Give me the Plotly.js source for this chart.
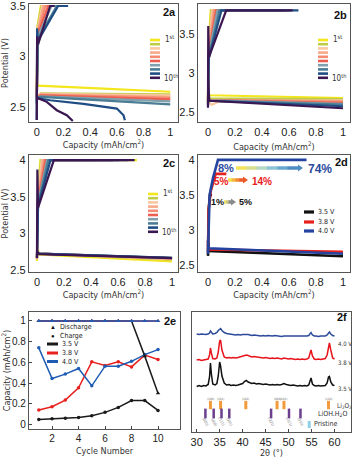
<!DOCTYPE html>
<html>
<head>
<meta charset="utf-8">
<script src="https://cdn.plot.ly/plotly-3.0.1.min.js"></script>
<style>
  html, body { margin: 0; padding: 0; background: #fff; }
  #chart { width: 352px; height: 458px; }
</style>
</head>
<body>
<div id="chart"></div>
<script>
// ---- data ----
var cycleColors = ['#f3e61c', '#bfcc48', '#f9c8a0', '#f7a988', '#f48b72', '#ec5f50', '#80a0ad', '#4a7d93', '#1f4d84', '#3b1752'];

// 2a : 3.5 V cut-off (capacity mAh/cm2, potential V), cycles 1..10
var aChargeX = [
  [0, 0.006, 0.030, 0.048], [0, 0.006, 0.035, 0.055], [0, 0.007, 0.040, 0.058],
  [0, 0.008, 0.050, 0.067], [0, 0.008, 0.065, 0.084], [0, 0.009, 0.085, 0.116],
  [0, 0.010, 0.110, 0.164], [0, 0.010, 0.150, 0.230],
  [0, 0.003, 0.008, 0.160, 0.235], [0, 0.003, 0.010, 0.100, 0.135]
];
var aChargeY = [
  [2.65, 3.30, 3.50, 3.50], [2.63, 3.29, 3.50, 3.50], [2.62, 3.27, 3.50, 3.50],
  [2.60, 3.26, 3.50, 3.50], [2.59, 3.24, 3.50, 3.50], [2.58, 3.22, 3.50, 3.50],
  [2.56, 3.20, 3.50, 3.50], [2.53, 3.18, 3.50, 3.50],
  [2.37, 3.28, 3.15, 3.50, 3.50], [2.37, 3.20, 3.12, 3.50, 3.50]
];
var aDischargeX = [
  [0, 0.01, 0.5, 1], [0, 0.03, 1], [0, 0.03, 1], [0, 0.03, 1], [0, 0.03, 1],
  [0, 0.03, 1], [0, 0.03, 1], [0, 0.03, 1],
  [0, 0.01, 0.10, 0.35, 0.60, 0.65, 0.66],
  [0, 0.01, 0.075, 0.15, 0.225, 0.27]
];
var aDischargeY = [
  [2.75, 2.71, 2.68, 2.65], [2.60, 2.635, 2.625], [2.60, 2.63, 2.615], [2.59, 2.625, 2.60], [2.59, 2.62, 2.59],
  [2.59, 2.615, 2.575], [2.59, 2.605, 2.555], [2.59, 2.60, 2.525],
  [2.60, 2.585, 2.566, 2.53, 2.483, 2.417, 2.368],
  [2.60, 2.585, 2.55, 2.467, 2.417, 2.36]
];

// 2b : 3.8 V cut-off
var bChargeX = [
  [0, 0.005, 0.020, 0.138], [0, 0.005, 0.025, 0.170], [0, 0.005, 0.030, 0.235],
  [0, 0.005, 0.040, 0.354], [0, 0.005, 0.050, 0.605], [0, 0.005, 0.060, 0.570],
  [0, 0.005, 0.070, 0.605], [0, 0.005, 0.085, 0.556], [0, 0.005, 0.100, 0.670],
  [0, 0.002, 0.006, 0.135, 0.627]
];
var bChargeY = [
  [2.685, 3.35, 3.80, 3.80], [2.67, 3.33, 3.80, 3.80], [2.655, 3.31, 3.80, 3.80],
  [2.645, 3.29, 3.80, 3.80], [2.635, 3.27, 3.80, 3.80], [2.625, 3.25, 3.80, 3.80],
  [2.61, 3.23, 3.80, 3.80], [2.60, 3.20, 3.80, 3.80], [2.58, 3.18, 3.80, 3.80],
  [2.56, 3.60, 3.20, 3.80, 3.80]
];
var bDischargeX = [
  [0, 0.01, 1], [0, 0.01, 1], [0, 0.01, 0.03, 0.08, 1], [0, 0.01, 1], [0, 0.01, 1],
  [0, 0.01, 1], [0, 0.01, 1], [0, 0.01, 1], [0, 0.01, 1], [0, 0.01, 1]
];
var bDischargeY = [
  [2.76, 2.72, 2.685], [2.70, 2.68, 2.67], [2.68, 2.62, 2.60, 2.64, 2.655], [2.68, 2.66, 2.645], [2.68, 2.66, 2.635],
  [2.68, 2.655, 2.625], [2.68, 2.655, 2.61], [2.68, 2.65, 2.60], [2.68, 2.65, 2.58], [2.93, 2.65, 2.555]
];

// 2c : 4.0 V cut-off
var cChargeX = [
  [0, 0.008, 0.025, 0.740], [0, 0.008, 0.030, 0.444], [0, 0.008, 0.035, 0.486],
  [0, 0.008, 0.045, 0.540], [0, 0.008, 0.055, 0.373], [0, 0.008, 0.065, 0.563],
  [0, 0.008, 0.075, 0.563], [0, 0.008, 0.085, 0.610], [0, 0.008, 0.100, 0.675],
  [0, 0.003, 0.008, 0.125, 0.723]
];
var cChargeY = [
  [2.62, 3.55, 4.0, 4.0], [2.64, 3.52, 4.0, 4.0], [2.645, 3.50, 4.0, 4.0],
  [2.65, 3.48, 4.0, 4.0], [2.655, 3.46, 4.0, 4.0], [2.66, 3.44, 4.0, 4.0],
  [2.66, 3.42, 4.0, 4.0], [2.665, 3.40, 4.0, 4.0], [2.665, 3.37, 4.0, 4.0],
  [2.66, 3.87, 3.35, 4.0, 4.0]
];
var cDischargeX = [
  [0, 0.015, 1], [0, 0.015, 1], [0, 0.015, 1], [0, 0.015, 1], [0, 0.015, 1],
  [0, 0.015, 1], [0, 0.015, 1], [0, 0.015, 1], [0, 0.015, 1], [0, 0.015, 1]
];
var cDischargeY = [
  [2.84, 2.71, 2.615], [2.75, 2.72, 2.64], [2.75, 2.72, 2.645], [2.75, 2.72, 2.65], [2.75, 2.72, 2.655],
  [2.75, 2.72, 2.66], [2.75, 2.72, 2.66], [2.75, 2.72, 2.665], [2.75, 2.72, 2.665], [2.75, 2.715, 2.66]
];

// 2d : first cycle at three cut-off voltages
var dLimits = ['3.5 V', '3.8 V', '4.0 V'];
var dChargeX = [[0, 0.005, 0.015, 0.03], [0, 0.005, 0.02, 0.057, 0.136], [0, 0.004, 0.012, 0.037, 0.074, 0.73]];
var dChargeY = [[2.63, 3.30, 3.50, 3.50], [2.69, 3.30, 3.55, 3.80, 3.80], [2.66, 2.93, 3.50, 3.74, 4.00, 4.00]];
var dDischargeX = [[0, 0.005, 1], [0, 0.005, 1], [0, 0.005, 1]];
var dDischargeY = [[2.85, 2.70, 2.625], [2.78, 2.72, 2.69], [2.80, 2.74, 2.66]];

// 2e : capacity vs cycle number
var cycleNo = [1, 2, 3, 4, 5, 6, 7, 8, 9, 10];
var eDischarge35 = [1, 1, 1, 1, 1, 1, 1, 1, 0.66, 0.30];
var eDischarge38 = [1, 1, 1, 1, 1, 1, 1, 1, 1, 1];
var eDischarge40 = [1, 1, 1, 1, 1, 1, 1, 1, 1, 1];
var eCharge35 = [0.048, 0.055, 0.058, 0.067, 0.084, 0.116, 0.164, 0.23, 0.23, 0.135];
var eCharge38 = [0.138, 0.17, 0.235, 0.354, 0.605, 0.57, 0.605, 0.556, 0.67, 0.627];
var eCharge40 = [0.74, 0.444, 0.486, 0.54, 0.373, 0.563, 0.563, 0.61, 0.675, 0.723];

// 2f : XRD patterns (offset intensity, a.u.)
var xrdTheta = [30, 30.5, 31, 31.5, 32, 32.5, 32.8, 33, 33.2, 33.5, 34, 34.4, 34.7, 35, 35.2, 35.5, 36, 36.5, 37, 37.5,
  38, 38.5, 39, 39.5, 40, 40.4, 40.8, 41.2, 41.6, 42, 42.5, 43, 43.5, 44, 44.5, 45, 45.5, 46, 46.5, 47,
  47.5, 48, 48.5, 49, 49.5, 50, 50.5, 51, 51.5, 52, 52.5, 53, 53.5, 54, 54.4, 54.7, 54.9, 55.2, 55.6, 56,
  56.5, 57, 57.5, 58, 58.4, 58.7, 58.9, 59.2, 59.6, 60];
var xrd35 = [45.5, 46.5, 45.5, 46.5, 46, 47.5, 55, 69, 58, 48, 47, 48.5, 56, 70, 66, 56, 49, 47, 47.5, 46.5,
  47, 46.5, 47, 47.5, 48.5, 50.5, 51.5, 50, 49, 48.5, 49, 48, 48.5, 48, 47.5, 48, 47.5, 47, 47.5, 47,
  47.5, 47, 47.5, 48.5, 47.5, 47, 46.5, 47, 46.5, 46, 46.5, 46, 46.5, 46, 47, 52, 54, 48, 46.5, 46,
  46.5, 46, 46.5, 46.5, 49, 55, 55.5, 50, 47, 46.5];
var xrd38 = [72, 72.5, 71.5, 72, 72.5, 73, 77, 84, 79, 73.5, 73, 74, 80, 91, 92, 82, 75, 74, 74.5, 74,
  74.5, 74, 74.5, 75, 75.5, 76.5, 77, 76.5, 75.5, 75, 75.5, 75, 74.5, 74.5, 74, 74.5, 74, 73.5, 74, 73.5,
  74, 73.5, 73, 74, 73.5, 73, 73.5, 73, 72.5, 73, 72.5, 73, 72.5, 73, 74, 79, 82, 76, 73, 72.5,
  73, 72.5, 73, 73.5, 77, 86, 89, 82, 74, 73];
var xrd40 = [98, 97.5, 98, 97.5, 97.5, 98, 99, 101, 99.5, 98, 98.5, 99.5, 101.5, 103, 103.5, 101.5, 99.5, 98.5, 98, 97.5,
  97.5, 97, 97.5, 97, 97.5, 97.5, 98, 97.5, 97, 96.5, 97, 96.5, 96.5, 96, 96.5, 96, 96.5, 96, 96, 96.5,
  96, 96, 95.5, 96, 96, 95.5, 96, 95.5, 96, 95.5, 96, 95.5, 96, 96, 96.5, 98.5, 99.5, 97, 96, 96,
  95.5, 96, 96, 96, 97, 99.5, 100, 98, 96.5, 96];
var li2o2Pos = [33.0, 35.2, 40.7, 47.5, 49.0, 58.7];
var li2o2Hkl = ['(100)', '(101)', '(102)', '(004)', '(103)', '(110)'];
var liohPos = [31.9, 33.7, 35.4, 37.1, 46.2, 50.1, 52.6];
var liohHkl = ['(020)', '(200)', '(-111)', '(201)', '(-221)', '(-311)', '(310)'];
var pristinePos = [54.5];

// ---- layout helpers ----
var W = 352, H = 458;
function fx(px) { return px / W; }
function fy(py) { return 1 - py / H; }
var tickFont = 'Liberation Sans, Arial, sans-serif';
var titleFont = 'Liberation Sans Narrow, DejaVu Sans Condensed, Liberation Sans, sans-serif';

function axis(domain, range, extra) {
  var o = {
    domain: domain, range: range, showline: true, mirror: true, linecolor: '#555', linewidth: 1.2,
    showgrid: false, zeroline: false, ticks: '', fixedrange: true, ticklabeloverflow: 'allow',
    tickfont: {family: tickFont, size: 11, color: '#222'},
    title: {text: '', font: {family: titleFont, size: 9, color: '#333'}}
  };
  for (var k in extra) o[k] = extra[k];
  return o;
}

var data = [];
function addCycles(xs, ys, dxs, dys, xa, ya) {
  for (var i = 0; i < xs.length; i++) {
    data.push({x: dxs[i], y: dys[i], xaxis: xa, yaxis: ya, mode: 'lines', showlegend: false,
      line: {color: cycleColors[i], width: 2.2}});
    data.push({x: xs[i], y: ys[i], xaxis: xa, yaxis: ya, mode: 'lines', showlegend: false,
      line: {color: cycleColors[i], width: 2.2}});
  }
}
addCycles(aChargeX, aChargeY, aDischargeX, aDischargeY, 'x', 'y');
addCycles(bChargeX, bChargeY, bDischargeX, bDischargeY, 'x2', 'y2');
addCycles(cChargeX, cChargeY, cDischargeX, cDischargeY, 'x3', 'y3');

var limitColors = ['#111111', '#e8201e', '#2444a0'];
for (var j = 0; j < dLimits.length; j++) {
  data.push({x: dDischargeX[j], y: dDischargeY[j], xaxis: 'x4', yaxis: 'y4', mode: 'lines', showlegend: false,
    line: {color: limitColors[j], width: 2.6}});
  data.push({x: dChargeX[j], y: dChargeY[j], xaxis: 'x4', yaxis: 'y4', mode: 'lines', showlegend: false,
    line: {color: limitColors[j], width: 2.6}});
}

var eColors = ['#1a1a1a', '#e8201e', '#1f5cb4'];
[eCharge35, eCharge38, eCharge40].forEach(function (v, k) {
  data.push({x: cycleNo, y: v, xaxis: 'x5', yaxis: 'y5', mode: 'lines+markers', showlegend: false,
    line: {color: eColors[k], width: 1.5}, marker: {symbol: 'circle', size: 3.5, color: eColors[k]}});
});
[eDischarge35, eDischarge38, eDischarge40].forEach(function (v, k) {
  data.push({x: cycleNo, y: v, xaxis: 'x5', yaxis: 'y5', mode: 'lines+markers', showlegend: false,
    line: {color: eColors[k], width: 1.5}, marker: {symbol: 'triangle-up', size: 4, color: eColors[k]}});
});

[[xrd35, '#111111'], [xrd38, '#e8141c'], [xrd40, '#2c4a9a']].forEach(function (s) {
  data.push({x: xrdTheta, y: s[0], xaxis: 'x6', yaxis: 'y6', mode: 'lines', showlegend: false,
    line: {color: s[1], width: 1.5}});
});
data.push({x: li2o2Pos, y: li2o2Pos.map(function () { return 27; }), xaxis: 'x6', yaxis: 'y6', mode: 'markers',
  showlegend: false, marker: {symbol: 'line-ns', size: 6, line: {color: '#f39a3c', width: 3}}});
data.push({x: liohPos, y: liohPos.map(function () { return 18.5; }), xaxis: 'x6', yaxis: 'y6', mode: 'markers',
  showlegend: false, marker: {symbol: 'line-ns', size: 7, line: {color: '#6b3e8e', width: 2.5}}});
data.push({x: pristinePos, y: [7.5], xaxis: 'x6', yaxis: 'y6', mode: 'markers',
  showlegend: false, marker: {symbol: 'line-ns', size: 5, line: {color: '#8fd0e8', width: 3}}});

// ---- annotations & shapes ----
var ann = [], shapes = [];
function label(px, py, text, opt) {
  var a = {xref: 'paper', yref: 'paper', x: fx(px), y: fy(py), text: text, showarrow: false,
    xanchor: 'center', yanchor: 'middle', font: {family: titleFont, size: 8, color: '#222'}};
  for (var k in opt) a[k] = opt[k];
  ann.push(a);
}
function hline(x0, x1, py, color, w) {
  shapes.push({type: 'line', xref: 'paper', yref: 'paper', x0: fx(x0), x1: fx(x1), y0: fy(py), y1: fy(py),
    line: {color: color, width: w}});
}
// panel tags
var bold = {family: 'Liberation Sans, Arial, sans-serif', size: 11, color: '#111'};
label(169, 12, '<b>2a</b>', {font: bold});
label(340, 15, '<b>2b</b>', {font: bold});
label(169, 163, '<b>2c</b>', {font: bold});
label(341, 162, '<b>2d</b>', {font: bold});
label(170, 321, '<b>2e</b>', {font: bold});
label(342, 317, '<b>2f</b>', {font: bold});

// cycle legends
function cycleLegend(x0, y0) {
  for (var i = 0; i < cycleColors.length; i++) hline(x0, x0 + 10, y0 + i * 4.2, cycleColors[i], 2.6);
  label(x0 + 13, y0 - 1, '1<sup>st</sup>', {xanchor: 'left', font: {family: titleFont, size: 8, color: '#333'}});
  label(x0 + 12, y0 + 9 * 4.2, '10<sup>th</sup>', {xanchor: 'left', font: {family: titleFont, size: 8, color: '#333'}});
}
cycleLegend(150, 40);
cycleLegend(318, 40);
cycleLegend(148, 194);

// 2d legend
[212, 222, 231].forEach(function (py, k) {
  hline(304, 314, py, limitColors[k], 3.2);
  label(316, py, dLimits[k], {xanchor: 'left', font: {family: titleFont, size: 7, color: '#222'}});
});
// 2d gradient arrows
function gradArrow(x0, x1, py, colors) {
  var n = colors.length, head = 5, step = (x1 - head - x0) / n;
  for (var i = 0; i < n; i++) hline(x0 + i * step, x0 + (i + 1) * step + 0.5, py, colors[i], 3.5);
  shapes.push({type: 'path', xref: 'paper', yref: 'paper', line: {width: 0}, fillcolor: colors[n - 1],
    path: 'M' + fx(x1 - head) + ',' + fy(py - 3.5) + ' L' + fx(x1) + ',' + fy(py) + ' L' + fx(x1 - head) + ',' + fy(py + 3.5) + ' Z'});
}
gradArrow(236, 303, 168, ['#f2e35a', '#d6df8e', '#b4d8c4', '#8cc4d6', '#6aa8d0', '#4f8cc4']);
gradArrow(228, 248, 180, ['#f5e04a', '#f5b540', '#f08a30', '#e85a28']);
gradArrow(224, 236, 202, ['#f0e060', '#c8c080', '#8a8a8a']);
var pctBlue = {family: 'Liberation Sans, Arial, sans-serif', size: 11, color: '#2a4aa0'};
label(226, 168, '<b>8%</b>', {font: pctBlue});
label(320, 169, '<b>74%</b>', {font: {family: 'Liberation Sans, Arial, sans-serif', size: 12, color: '#2a4aa0'}});
label(221, 181, '<b>5%</b>', {font: {family: 'Liberation Sans, Arial, sans-serif', size: 10, color: '#e82020'}});
label(262, 181, '<b>14%</b>', {font: {family: 'Liberation Sans, Arial, sans-serif', size: 10, color: '#e82020'}});
label(218, 202, '<b>1%</b>', {font: {family: 'Liberation Sans, Arial, sans-serif', size: 9, color: '#111'}});
label(245, 202, '<b>5%</b>', {font: {family: 'Liberation Sans, Arial, sans-serif', size: 9, color: '#111'}});

// 2e legend
var legFont = {family: titleFont, size: 7, color: '#222'};
label(53, 327, '▲', {font: {family: tickFont, size: 6, color: '#111'}});
label(58, 327, 'Discharge', {xanchor: 'left', font: legFont});
label(53, 335.5, '●', {font: {family: tickFont, size: 6, color: '#111'}});
label(58, 335.5, 'Charge', {xanchor: 'left', font: legFont});
[344, 353, 361.5].forEach(function (py, k) {
  hline(47, 58, py, eColors[k], 3);
  label(60, py, dLimits[k], {xanchor: 'left', font: legFont});
});

// 2f labels
function xrdLabel(x, y, text, opt) {
  var a = {xref: 'x6', yref: 'y6', x: x, y: y, text: text, showarrow: false, xanchor: 'left', yanchor: 'middle',
    font: {family: titleFont, size: 6, color: '#333'}};
  for (var k in opt) a[k] = opt[k];
  ann.push(a);
}
xrdLabel(60.3, 89, '4.0 V');
xrdLabel(60.3, 70, '3.8 V');
xrdLabel(60.3, 44, '3.5 V');
xrdLabel(60.2, 26, 'Li<sub>2</sub>O<sub>2</sub>', {font: {family: titleFont, size: 6.5, color: '#333'}});
xrdLabel(55.9, 18, 'LiOH.H<sub>2</sub>O', {font: {family: titleFont, size: 7, color: '#333'}});
xrdLabel(55.2, 8, 'Pristine', {font: {family: titleFont, size: 7, color: '#333'}});
li2o2Pos.forEach(function (p, i) {
  xrdLabel(p, 33.5, li2o2Hkl[i], {xanchor: 'center', font: {family: titleFont, size: 3, color: '#666'}});
});
liohPos.forEach(function (p, i) {
  xrdLabel(p, 10, liohHkl[i], {xanchor: 'center', textangle: 60, font: {family: titleFont, size: 3.5, color: '#666'}});
});

// ---- axes ----
var capTitle = 'Capacity (mAh/cm<sup>2</sup>)';
var capTicks = [0, 0.2, 0.4, 0.6, 0.8, 1];
var rowTop = [fy(122), fy(4)], rowMid = [fy(272), fy(155)];
function ttl(text, standoff) { return {text: text, standoff: standoff, font: {family: titleFont, size: 9, color: '#333'}}; }
var layout = {
  width: W, height: H, margin: {l: 0, r: 0, t: 0, b: 0}, paper_bgcolor: '#fff', plot_bgcolor: '#fff',
  showlegend: false, annotations: ann, shapes: shapes,
  xaxis: axis([fx(29), fx(178)], [-0.058, 1.058], {tickvals: capTicks, title: ttl(capTitle, 4)}),
  yaxis: axis(rowTop, [2.35, 3.52], {tickvals: [2.5, 3, 3.5], title: ttl('Potential (V)', 3)}),
  xaxis2: axis([fx(198), fx(350)], [-0.074, 1.052], {anchor: 'y2', tickvals: capTicks, title: ttl(capTitle, 6)}),
  yaxis2: axis(rowTop, [2.38, 3.88], {anchor: 'x2', tickvals: [2.5, 3, 3.5]}),
  xaxis3: axis([fx(29), fx(178)], [-0.059, 1.044], {anchor: 'y3', tickvals: capTicks, title: ttl(capTitle, 4)}),
  yaxis3: axis(rowMid, [2.47, 4.07], {anchor: 'x3', tickvals: [2.5, 3, 3.5, 4], title: ttl('Potential (V)', 3)}),
  xaxis4: axis([fx(198), fx(350)], [-0.074, 1.052], {anchor: 'y4', tickvals: capTicks, title: ttl(capTitle, 4)}),
  yaxis4: axis(rowMid, [2.4, 4.07], {anchor: 'x4', tickvals: [2.5, 3, 3.5, 4]}),
  xaxis5: axis([fx(29), fx(180)], [0.26, 11.66], {anchor: 'y5', tickvals: [2, 4, 6, 8, 10], ticks: 'inside', ticklen: 3,
    tickfont: {family: tickFont, size: 10, color: '#222'}, title: ttl('Cycle Number', 4)}),
  yaxis5: axis([fy(429), fy(312)], [-0.045, 1.087], {anchor: 'x5', tickvals: [0, 0.2, 0.4, 0.6, 0.8, 1], ticks: 'inside', ticklen: 3,
    tickfont: {family: tickFont, size: 10, color: '#222'}, title: ttl(capTitle, 3)}),
  xaxis6: axis([fx(192), fx(351)], [28.98, 63.6], {anchor: 'y6', tickvals: [30, 35, 40, 45, 50, 55, 60], ticks: 'inside', ticklen: 3,
    title: ttl('2θ (°)', 3)}),
  yaxis6: axis([fy(432), fy(312)], [0, 120], {anchor: 'x6', showticklabels: false})
};

Plotly.newPlot('chart', data, layout, {staticPlot: true});
</script>
</body>
</html>
